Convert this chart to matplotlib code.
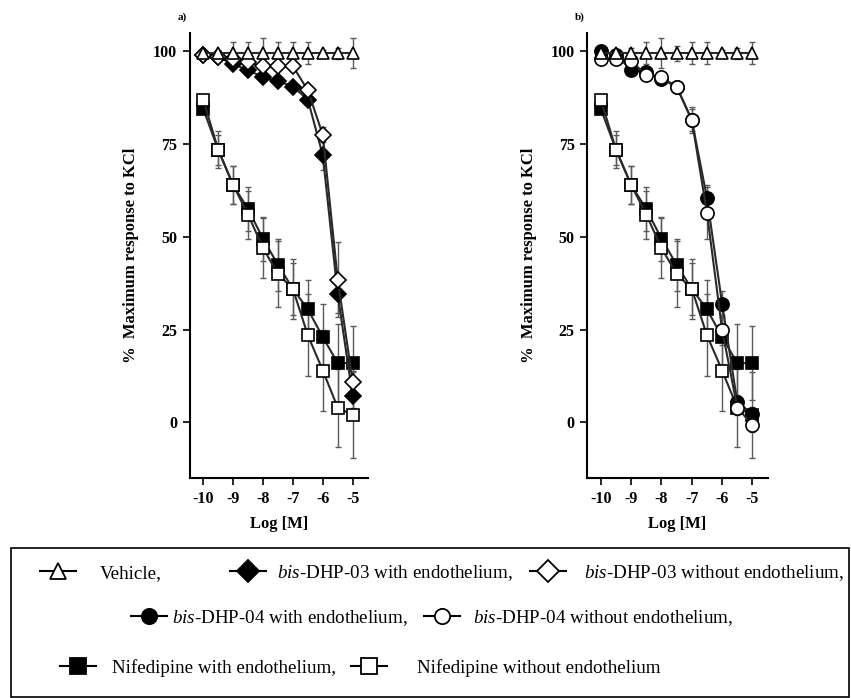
import numpy as np
import matplotlib
matplotlib.use("Agg")
import matplotlib.pyplot as plt
from matplotlib.lines import Line2D
from matplotlib.patches import Rectangle

plt.rcParams["font.family"] = ["Liberation Serif", "DejaVu Serif"]
plt.rcParams["mathtext.fontset"] = "custom"
plt.rcParams["mathtext.rm"] = "Liberation Serif"
plt.rcParams["mathtext.it"] = "Liberation Serif:italic"
plt.rcParams["axes.unicode_minus"] = False

# log concentration (M)
log_conc = [-10, -9.5, -9, -8.5, -8, -7.5, -7, -6.5, -6, -5.5, -5]

# vehicle
vehicle_a = [99.5, 99.5, 99.5, 99.5, 99.5, 99.5, 99.5, 99.5, 99.5, 99.5, 99.5]
vehicle_a_err = [1, 1, 3, 3, 4, 3, 3, 3, 1, 1.5, 4]
vehicle_b = [99.5, 99.5, 99.5, 99.5, 99.5, 99.5, 99.5, 99.5, 99.5, 99.5, 99.5]
vehicle_b_err = [1, 1, 1.5, 3, 4, 2, 3, 3, 1, 1.5, 3]

# nifedipine (same in both panels)
nif_with = [84.5, 73.5, 64, 57.5, 49.5, 42.5, 36, 30.5, 23, 16, 16]
nif_with_err = [1, 4, 5, 6, 6, 7, 7, 8, 9, 10.5, 10]
nif_without = [87, 73.5, 64, 56, 47, 40, 36, 23.5, 14, 4, 2]
nif_without_err = [1, 5, 5, 6.5, 8, 9, 8, 11, 11, 10.5, 11.5]

# bis-DHP-03 (panel a)
dhp03_with = [99, 98.5, 96.5, 95, 93, 92, 90.5, 87, 72, 34.5, 7]
dhp03_with_err = [0.5, 0.5, 1, 1, 1, 1, 1, 1.5, 4, 5, 3]
dhp03_without = [99, 98.5, 98, 97, 96, 96, 96, 89.5, 77.5, 38.5, 11]
dhp03_without_err = [0.5, 0.5, 1, 1, 1, 1, 1, 1.5, 2, 10, 3]

# bis-DHP-04 (panel b)
dhp04_with = [100, 99, 95, 94.5, 92.5, 90.5, 81.5, 60.5, 32, 5.5, 2.3]
dhp04_with_err = [0.5, 0.5, 1, 1, 1, 1, 3, 3.5, 3.5, 2, 2]
dhp04_without = [98, 98, 97.5, 93.5, 93, 90.5, 81.5, 56.5, 25, 4, -0.7]
dhp04_without_err = [0.5, 0.5, 1, 1, 1, 1, 3.5, 7, 4, 2, 2]

line_col = "#2a2a2a"
err_col = "#5a5a5a"


def draw_series(ax, y, err, marker, face, size=8):
    ax.errorbar(log_conc, y, yerr=err, fmt="none", ecolor=err_col,
                elinewidth=1, capsize=2.5, capthick=1, zorder=2)
    ax.plot(log_conc, y, color=line_col, lw=1.5, marker=marker,
            markersize=size, markerfacecolor=face, markeredgecolor="black",
            markeredgewidth=1.2, zorder=3)


def style_axes(ax, tag):
    ax.set_xlim(-10.45, -4.5)
    ax.set_ylim(-15, 105)
    ax.set_xticks([-10, -9, -8, -7, -6, -5])
    ax.set_yticks([0, 25, 50, 75, 100])
    ax.spines["top"].set_visible(False)
    ax.spines["right"].set_visible(False)
    for s in ("left", "bottom"):
        ax.spines[s].set_linewidth(1.5)
    ax.tick_params(direction="out", width=1.2, length=5, labelsize=11.5,
                   pad=4)
    for lab in ax.get_xticklabels() + ax.get_yticklabels():
        lab.set_fontweight("bold")
    ax.set_xlabel("Log [M]", fontsize=12, fontweight="bold", labelpad=7)
    ax.set_ylabel("%  Maximum response to KCl", fontsize=12,
                  fontweight="bold", labelpad=10)
    ax.text(-0.04, 1.035, tag, transform=ax.transAxes, fontsize=8,
            fontweight="bold", ha="center", va="center")


fig = plt.figure(figsize=(8.51, 6.98), dpi=100)
ax_a = fig.add_axes([0.223, 0.315, 0.209, 0.638])
ax_b = fig.add_axes([0.690, 0.315, 0.212, 0.638])

draw_series(ax_a, nif_with, nif_with_err, "s", "black")
draw_series(ax_a, nif_without, nif_without_err, "s", "white")
draw_series(ax_a, dhp03_with, dhp03_with_err, "D", "black", 8)
draw_series(ax_a, dhp03_without, dhp03_without_err, "D", "white", 8)
draw_series(ax_a, vehicle_a, vehicle_a_err, "^", "white", 9)
style_axes(ax_a, "a)")

draw_series(ax_b, nif_with, nif_with_err, "s", "black")
draw_series(ax_b, nif_without, nif_without_err, "s", "white")
draw_series(ax_b, dhp04_with, dhp04_with_err, "o", "black", 9.5)
draw_series(ax_b, dhp04_without, dhp04_without_err, "o", "white", 9.5)
draw_series(ax_b, vehicle_b, vehicle_b_err, "^", "white", 9)
style_axes(ax_b, "b)")

# legend box with hand-placed entries
fig.patches.append(Rectangle((0.0125, 0.0015), 0.985, 0.2135,
                             transform=fig.transFigure, fill=False,
                             edgecolor="black", lw=1.2))

# (marker, face, label, handle x, row y, text pad)
legend_entries = [
    ("^", "white", "Vehicle,", 0.047, 0.179, 1.26),
    ("D", "black", r"$\it{bis}$-DHP-03 with endothelium,", 0.270, 0.179, 0.58),
    ("D", "white", r"$\it{bis}$-DHP-03 without endothelium,", 0.623, 0.179, 0.95),
    ("o", "black", r"$\it{bis}$-DHP-04 with endothelium,", 0.154, 0.115, 0.26),
    ("o", "white", r"$\it{bis}$-DHP-04 without endothelium,", 0.498, 0.115, 0.68),
    ("s", "black", "Nifedipine with endothelium,", 0.070, 0.043, 0.89),
    ("s", "white", "Nifedipine without endothelium", 0.412, 0.043, 1.58),
]
for marker, face, label, x, y, pad in legend_entries:
    h = Line2D([], [], color="black", lw=1.5, marker=marker, markersize=11,
               markerfacecolor=face, markeredgecolor="black",
               markeredgewidth=1.3)
    fig.legend(handles=[h], labels=[label], loc="center left",
               bbox_to_anchor=(x, y), frameon=False, fontsize=13.7,
               handlelength=1.89, handletextpad=pad, borderpad=0,
               borderaxespad=0)

fig.savefig("out.png", dpi=100)
